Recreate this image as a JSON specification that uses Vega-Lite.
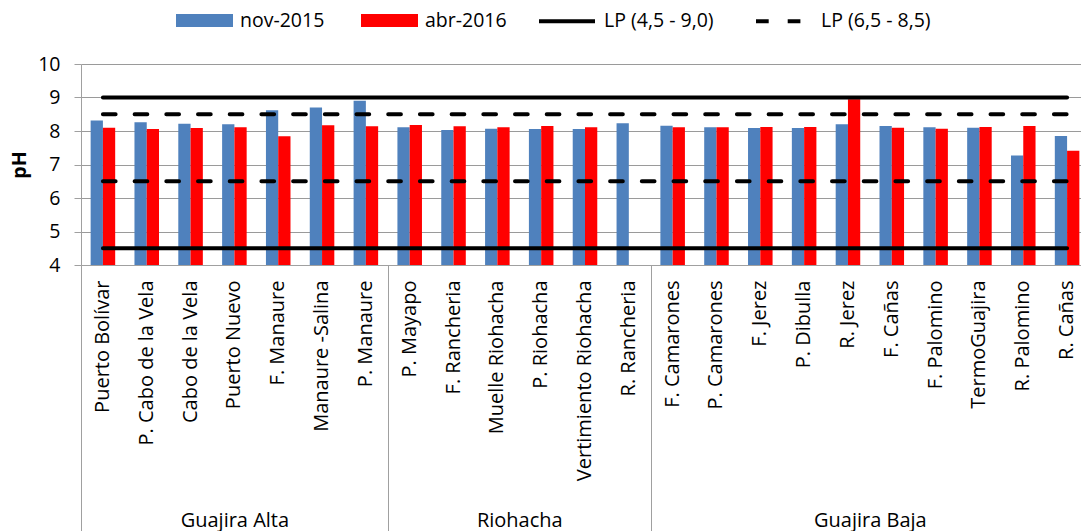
{
  "$schema": "https://vega.github.io/schema/vega-lite/v6.json",
  "width": 1008,
  "height": 201,
  "autosize": {"type": "none"},
  "padding": {"left": 81, "top": 64, "right": -8, "bottom": 266},
  "background": "white",
  "config": {
    "font": "Open Sans",
    "view": {"stroke": null},
    "axis": {"labelColor": "black", "titleColor": "black", "labelFontSize": 19.5, "titleFontSize": 19.5, "labelFont": "Open Sans", "titleFont": "Open Sans", "labelLimit": 400},
    "axisY": {"tickCount": 7, "grid": true, "gridColor": "#9A9A9A", "gridWidth": 1.2, "tickColor": "#A0A0A0", "domainColor": "#A0A0A0", "tickSize": 7, "labelPadding": 14, "titlePadding": 8, "titleFontWeight": "bold", "labelOverlap": false},
    "legend": {"labelColor": "black", "labelFontSize": 19.5, "labelFont": "Open Sans", "labelLimit": 400}
  },
  "datasets": {
    "ph": [
      {"sitio": "Puerto Bolívar", "muestreo": "nov-2015", "ph": 8.31},
      {"sitio": "Puerto Bolívar", "muestreo": "abr-2016", "ph": 8.10},
      {"sitio": "P. Cabo de la Vela", "muestreo": "nov-2015", "ph": 8.26},
      {"sitio": "P. Cabo de la Vela", "muestreo": "abr-2016", "ph": 8.06},
      {"sitio": "Cabo de la Vela", "muestreo": "nov-2015", "ph": 8.22},
      {"sitio": "Cabo de la Vela", "muestreo": "abr-2016", "ph": 8.09},
      {"sitio": "Puerto Nuevo", "muestreo": "nov-2015", "ph": 8.20},
      {"sitio": "Puerto Nuevo", "muestreo": "abr-2016", "ph": 8.11},
      {"sitio": "F. Manaure", "muestreo": "nov-2015", "ph": 8.62},
      {"sitio": "F. Manaure", "muestreo": "abr-2016", "ph": 7.84},
      {"sitio": "Manaure -Salina", "muestreo": "nov-2015", "ph": 8.70},
      {"sitio": "Manaure -Salina", "muestreo": "abr-2016", "ph": 8.17},
      {"sitio": "P. Manaure", "muestreo": "nov-2015", "ph": 8.90},
      {"sitio": "P. Manaure", "muestreo": "abr-2016", "ph": 8.14},
      {"sitio": "P. Mayapo", "muestreo": "nov-2015", "ph": 8.11},
      {"sitio": "P. Mayapo", "muestreo": "abr-2016", "ph": 8.18},
      {"sitio": "F. Rancheria", "muestreo": "nov-2015", "ph": 8.03},
      {"sitio": "F. Rancheria", "muestreo": "abr-2016", "ph": 8.14},
      {"sitio": "Muelle Riohacha", "muestreo": "nov-2015", "ph": 8.07},
      {"sitio": "Muelle Riohacha", "muestreo": "abr-2016", "ph": 8.11},
      {"sitio": "P. Riohacha", "muestreo": "nov-2015", "ph": 8.06},
      {"sitio": "P. Riohacha", "muestreo": "abr-2016", "ph": 8.15},
      {"sitio": "Vertimiento Riohacha", "muestreo": "nov-2015", "ph": 8.06},
      {"sitio": "Vertimiento Riohacha", "muestreo": "abr-2016", "ph": 8.11},
      {"sitio": "R. Rancheria", "muestreo": "nov-2015", "ph": 8.23},
      {"sitio": "F. Camarones", "muestreo": "nov-2015", "ph": 8.16},
      {"sitio": "F. Camarones", "muestreo": "abr-2016", "ph": 8.11},
      {"sitio": "P. Camarones", "muestreo": "nov-2015", "ph": 8.11},
      {"sitio": "P. Camarones", "muestreo": "abr-2016", "ph": 8.11},
      {"sitio": "F. Jerez", "muestreo": "nov-2015", "ph": 8.09},
      {"sitio": "F. Jerez", "muestreo": "abr-2016", "ph": 8.12},
      {"sitio": "P. Dibulla", "muestreo": "nov-2015", "ph": 8.09},
      {"sitio": "P. Dibulla", "muestreo": "abr-2016", "ph": 8.12},
      {"sitio": "R. Jerez", "muestreo": "nov-2015", "ph": 8.20},
      {"sitio": "R. Jerez", "muestreo": "abr-2016", "ph": 8.95},
      {"sitio": "F. Cañas", "muestreo": "nov-2015", "ph": 8.15},
      {"sitio": "F. Cañas", "muestreo": "abr-2016", "ph": 8.10},
      {"sitio": "F. Palomino", "muestreo": "nov-2015", "ph": 8.11},
      {"sitio": "F. Palomino", "muestreo": "abr-2016", "ph": 8.07},
      {"sitio": "TermoGuajira", "muestreo": "nov-2015", "ph": 8.10},
      {"sitio": "TermoGuajira", "muestreo": "abr-2016", "ph": 8.12},
      {"sitio": "R. Palomino", "muestreo": "nov-2015", "ph": 7.27},
      {"sitio": "R. Palomino", "muestreo": "abr-2016", "ph": 8.15},
      {"sitio": "R. Cañas", "muestreo": "nov-2015", "ph": 7.85},
      {"sitio": "R. Cañas", "muestreo": "abr-2016", "ph": 7.41}
    ],
    "lp": [
      {"serie": "LP (4,5 - 9,0)", "ph": 4.5, "desde": "Puerto Bolívar", "hasta": "R. Cañas"},
      {"serie": "LP (4,5 - 9,0)", "ph": 9.0, "desde": "Puerto Bolívar", "hasta": "R. Cañas"},
      {"serie": "LP (6,5 - 8,5)", "ph": 6.5, "desde": "Puerto Bolívar", "hasta": "R. Cañas"},
      {"serie": "LP (6,5 - 8,5)", "ph": 8.5, "desde": "Puerto Bolívar", "hasta": "R. Cañas"}
    ],
    "grupos": [
      {"grupo": "Guajira Alta", "inicio": 0, "fin": 7},
      {"grupo": "Riohacha", "inicio": 7, "fin": 13},
      {"grupo": "Guajira Baja", "inicio": 13, "fin": 23}
    ]
  },
  "layer": [
    {
      "layer": [
        {
          "data": {"name": "ph"},
          "mark": {"type": "bar", "clip": true},
          "encoding": {
            "x": {
              "field": "sitio", "type": "nominal",
              "scale": {"type": "band", "paddingInner": 0.44, "paddingOuter": 0.22,
                "domain": ["Puerto Bolívar","P. Cabo de la Vela","Cabo de la Vela","Puerto Nuevo","F. Manaure","Manaure -Salina","P. Manaure","P. Mayapo","F. Rancheria","Muelle Riohacha","P. Riohacha","Vertimiento Riohacha","R. Rancheria","F. Camarones","P. Camarones","F. Jerez","P. Dibulla","R. Jerez","F. Cañas","F. Palomino","TermoGuajira","R. Palomino","R. Cañas"]},
              "axis": {"title": null, "labelAngle": -90, "labelAlign": "right", "labelBaseline": "middle", "ticks": false, "labelPadding": 15, "domainColor": "#A0A0A0", "grid": false, "labelOverlap": false, "labelLimit": 400, "labelFontSize": 20}
            },
            "xOffset": {"field": "muestreo", "type": "nominal", "scale": {"domain": ["nov-2015", "abr-2016"], "paddingInner": 0, "paddingOuter": 0}},
            "y": {
              "field": "ph", "type": "quantitative", "title": "pH",
              "scale": {"domain": [4, 10], "nice": false, "zero": false}
            },
            "color": {
              "field": "muestreo", "type": "nominal",
              "scale": {"domain": ["nov-2015", "abr-2016"], "range": ["#4F81BD", "#FF0000"]},
              "legend": {"orient": "none", "legendX": 94, "legendY": -73, "direction": "horizontal", "title": null, "symbolType": "M-1,-0.228H1V0.228H-1Z", "symbolSize": 3249, "labelOffset": 6, "columnPadding": 35}
            }
          }
        },
        {
          "data": {"name": "lp"},
          "mark": {"type": "rule", "strokeWidth": 4, "strokeCap": "round", "color": "black"},
          "encoding": {
            "x": {"field": "desde", "type": "nominal"},
            "x2": {"field": "hasta"},
            "y": {"field": "ph", "type": "quantitative", "title": "pH"},
            "strokeDash": {
              "field": "serie", "type": "nominal",
              "scale": {"domain": ["LP (4,5 - 9,0)", "LP (6,5 - 8,5)"], "range": [[1, 0], [12.7, 19]]},
              "legend": {"orient": "none", "legendX": 456, "legendY": -73, "direction": "horizontal", "title": null, "symbolType": "stroke", "symbolSize": 3136, "symbolStrokeWidth": 4, "labelOffset": 7, "columnPadding": 34}
            }
          }
        }
      ]
    },
    {
      "data": {"name": "grupos"},
      "mark": {"type": "tick", "opacity": 0},
      "encoding": {
        "x": {
          "field": "inicio", "type": "quantitative",
          "scale": {"domain": [0, 23], "nice": false, "zero": false},
          "axis": {
            "orient": "bottom", "title": null, "grid": false, "domain": false,
            "values": [0, 3.5, 7, 10, 13, 18],
            "labelExpr": "datum.value == 3.5 ? 'Guajira Alta' : datum.value == 10 ? 'Riohacha' : datum.value == 18 ? 'Guajira Baja' : ''",
            "tickSize": 266, "tickColor": "#A0A0A0",
            "tickOpacity": {"condition": {"test": "datum.value == 0 || datum.value == 7 || datum.value == 13", "value": 1}, "value": 0},
            "labelPadding": -5, "labelBaseline": "alphabetic", "labelAngle": 0, "labelAlign": "center", "labelFlush": false, "labelOverlap": false, "labelFontSize": 20
          }
        }
      }
    }
  ],
  "resolve": {"scale": {"x": "independent"}}
}
